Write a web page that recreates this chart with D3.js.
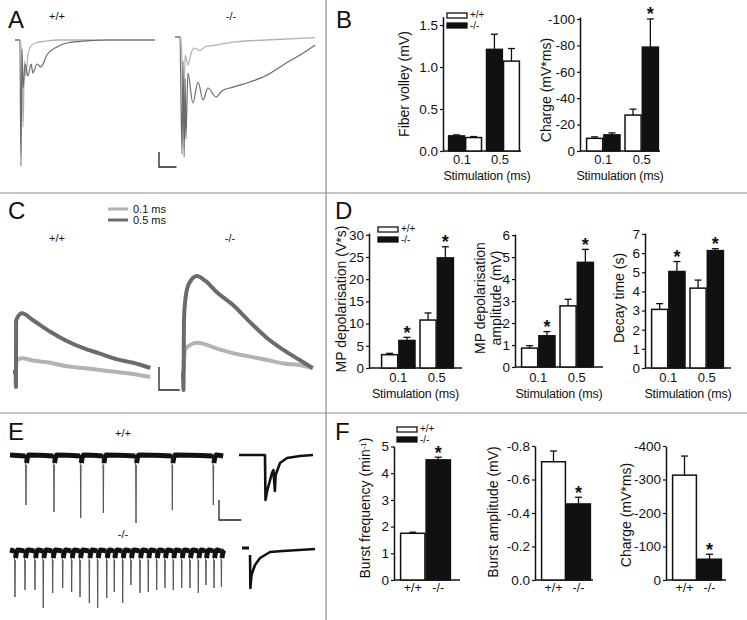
<!DOCTYPE html>
<html><head><meta charset="utf-8">
<script src="https://cdn.jsdelivr.net/npm/d3@7"></script>
<style>
body{margin:0;background:#fff}
svg{display:block}
text{font-family:"Liberation Sans",Arial,Helvetica,sans-serif;fill:#111}
</style>
</head><body>
<svg id="fig" width="747" height="620"></svg>
<script>
// ================= DATA =================
const stimulation = ["0.1", "0.5"];
const genotypes = ["+/+", "-/-"];

// Panel B
const fiberVolleyKO = [0.18, 1.21];
const fiberVolleyKOsem = [0.012, 0.18];
const fiberVolleyWT = [0.16, 1.07];
const fiberVolleyWTsem = [0.012, 0.15];
const fiberVolleyTicks = [0, 0.5, 1.0, 1.5];

const chargeBWT = [9.6, 27.2];
const chargeBWTsem = [1.1, 4.5];
const chargeBKO = [12.2, 78.7];
const chargeBKOsem = [1.5, 21.3];
const chargeBTicks = [0, 20, 40, 60, 80, 100];

// Panel D
const mpDepWT = [3.0, 10.8];
const mpDepWTsem = [0.3, 1.6];
const mpDepKO = [6.2, 24.8];
const mpDepKOsem = [0.7, 2.5];
const mpDepTicks = [0, 5, 10, 15, 20, 25, 30];

const mpAmpWT = [0.86, 2.78];
const mpAmpWTsem = [0.11, 0.30];
const mpAmpKO = [1.42, 4.76];
const mpAmpKOsem = [0.19, 0.59];
const mpAmpTicks = [0, 1, 2, 3, 4, 5, 6];

const decayWT = [3.06, 4.17];
const decayWTsem = [0.30, 0.42];
const decayKO = [5.04, 6.13];
const decayKOsem = [0.52, 0.10];
const decayTicks = [0, 1, 2, 3, 4, 5, 6, 7];

// Panel F
const burstFreq = [1.75, 4.5];
const burstFreqSem = [0.04, 0.10];
const burstFreqTicks = [0, 1, 2, 3, 4, 5];

const burstAmp = [0.706, 0.454];
const burstAmpSem = [0.064, 0.040];
const burstAmpTicks = [0, 0.2, 0.4, 0.6, 0.8];

const burstCharge = [313, 62];
const burstChargeSem = [57, 15];
const burstChargeTicks = [0, 100, 200, 300, 400];

// Panel A traces: [time (ms), field potential (mV)]
const traceA_WT_01 = [[0,0],[1.4,0],[2.0,-0.7],[2.3,-2.9],[2.7,-0.7],[3.1,-1.2],[3.7,-0.5],[4.3,-0.25],[5.7,-0.1],[8.6,-0.04],[13,0],[40,0]];
const traceA_WT_05 = [[0,0],[1.4,0],[1.7,-4.2],[2.0,-0.3],[2.3,-1.6],[2.9,-0.8],[3.7,-1.2],[4.6,-0.8],[5.1,-1.1],[6.3,-0.8],[7.4,-0.9],[9.1,-0.5],[12,-0.23],[14.9,-0.1],[20.6,-0.03],[27,0],[40,0]];
const traceA_KO_01 = [[0,0],[1.7,0],[2.0,-0.8],[2.4,-3.1],[2.9,-0.6],[3.7,-0.93],[4.6,-0.55],[5.4,-0.37],[7.1,-0.45],[8.6,-0.33],[11.7,-0.27],[16.6,-0.17],[26,-0.1],[40,-0.02]];
const traceA_KO_05 = [[0,0],[1.4,0],[2.0,-3.9],[2.3,-0.8],[2.6,-4.0],[2.9,-1.4],[3.1,-3.4],[3.7,-1.2],[5.1,-2.2],[6.6,-1.5],[8.0,-2.1],[9.4,-1.7],[11.7,-2.0],[13.4,-1.8],[16.6,-1.67],[21.4,-1.5],[26.3,-1.27],[30.9,-0.93],[35.7,-0.6],[40,-0.27]];

// Panel C traces: [time (s), membrane depolarisation (mV)]
const traceC_WT_01 = [[0,0],[0.43,0],[0.5,1.0],[1.3,1.2],[2.9,1.0],[5.4,0.8],[7.8,0.5],[10.1,0.35],[12.6,0.17],[15.1,0],[17.4,-0.17],[19.9,-0.43]];
const traceC_WT_05 = [[0,0],[0.36,0],[0.43,-1.3],[0.45,4.4],[0.6,4.7],[1.3,5.1],[2.9,4.5],[5.4,3.5],[7.8,2.7],[10.1,2.1],[12.6,1.6],[15.1,1.1],[17.4,0.8],[19.9,0.35]];
const traceC_KO_01 = [[0,0],[0.29,0],[0.58,2.2],[1.3,2.6],[2.3,2.8],[5.2,2.3],[7.5,1.9],[10,1.6],[12.5,1.3],[14.8,1.0],[17.2,0.87],[19.1,0.6]];
const traceC_KO_05 = [[0,0],[0.29,0],[0.36,-1.3],[0.43,4.8],[0.72,7.0],[1.3,8.1],[2.3,8.6],[3.5,8.2],[5.2,7.2],[7.5,6.1],[10,4.6],[12.5,3.2],[14.8,2.2],[17.2,1.3],[19.1,0.6]];

// Panel E: burst times (s) and amplitudes (mV)
const burstTimesWT = [18.0, 49.6, 79.7, 105.2, 142.0, 182.9, 229.1];
const burstAmpsWT = [-0.50, -0.57, -0.63, -0.58, -0.68, -0.55, -0.50];
const burstTimesKO = [5.6,16.9,28.2,37.5,48.1,59.4,69.5,78.9,89.4,98.8,109,117.5,127,136.3,146.5,155.8,165.3,174.6,184,193.5,202.8,212.2,220.8,229.9,238.2];
const burstAmpsKO = [-0.47,-0.40,-0.40,-0.58,-0.43,-0.38,-0.42,-0.47,-0.53,-0.58,-0.48,-0.42,-0.53,-0.35,-0.43,-0.42,-0.40,-0.38,-0.40,-0.38,-0.38,-0.43,-0.35,-0.38,-0.37];
const insetE_WT = [[0,0],[35.1,0],[35.8,-0.45],[38,-0.36],[44.6,-0.18],[46.5,-0.15],[48.5,-0.36],[49.5,-0.2],[55.4,-0.08],[64.9,-0.03],[82.4,-0.01],[100,0]];
const insetE_KO_pre = [[0,0.02],[9.6,0.02]];
const insetE_KO = [[11,-0.05],[11.5,-0.38],[13,-0.25],[17.8,-0.15],[24.7,-0.08],[38.4,-0.02],[56,-0.01],[100,0.01]];

// ================= DRAWING =================
const svg = d3.select("#fig");
svg.append("rect").attr("width", 747).attr("height", 620).attr("fill", "#fff");

// dividers
const divColor = "#8c8c8c";
svg.append("line").attr("x1", 326).attr("x2", 326).attr("y1", 0).attr("y2", 620).attr("stroke", divColor).attr("stroke-width", 1.2);
[193, 413].forEach(y => svg.append("line").attr("x1", 0).attr("x2", 747).attr("y1", y).attr("y2", y).attr("stroke", divColor).attr("stroke-width", 1.2));

// panel letters
[["A", 8, 28], ["B", 336, 28], ["C", 8, 219], ["D", 335, 219], ["E", 8, 440], ["F", 335, 440]].forEach(([t, x, y]) =>
  svg.append("text").attr("x", x).attr("y", y).attr("font-size", 24).text(t));

function label(t, x, y, size, anchor) {
  return svg.append("text").attr("x", x).attr("y", y).attr("font-size", size || 11).attr("text-anchor", anchor || "middle").text(t);
}

// ---------- bar charts ----------
function barChart(o) {
  const g = svg.append("g");
  const y = d3.scaleLinear().domain([0, o.max]).range([o.yBase, o.yTop]);
  const gx = d3.scaleBand().domain(o.groups).range(o.barRange).paddingInner(o.groups.length > 1 ? 0.1 : 0).paddingOuter(0);
  const sx = d3.scaleBand().domain(d3.range(o.series.length)).range([0, gx.bandwidth()]);
  const ax = d3.axisLeft(y).tickValues(o.ticks).tickFormat(o.fmt).tickSize(3).tickSizeOuter(0).tickPadding(2);
  const ag = g.append("g").attr("transform", `translate(${o.axisX},0)`).call(ax);
  ag.select(".domain").attr("stroke", "#111").attr("stroke-width", 1.5);
  ag.selectAll(".tick line").attr("stroke", "#111").attr("stroke-width", 1.2);
  ag.selectAll(".tick text").attr("font-size", 13.5).attr("fill", "#111").attr("font-family", "Liberation Sans, Arial, sans-serif");
  g.append("line").attr("x1", o.axisX).attr("x2", o.axisEnd).attr("y1", o.yBase).attr("y2", o.yBase).attr("stroke", "#111").attr("stroke-width", 1.5);

  o.series.forEach((s, i) => {
    s.vals.forEach((v, j) => {
      const x0 = gx(o.groups[j]) + sx(i), w = sx.bandwidth(), cx = x0 + w / 2;
      const top = y(v) , eTop = y(v + s.sem[j]);
      g.append("line").attr("x1", cx).attr("x2", cx).attr("y1", top).attr("y2", eTop).attr("stroke", "#111").attr("stroke-width", 1.3);
      g.append("line").attr("x1", cx - 3.5).attr("x2", cx + 3.5).attr("y1", eTop).attr("y2", eTop).attr("stroke", "#111").attr("stroke-width", 1.3);
      g.append("rect").attr("x", x0 + 0.6).attr("y", top).attr("width", w - 1.2).attr("height", o.yBase - top)
        .attr("fill", s.fill).attr("stroke", "#111").attr("stroke-width", 1.5);
      if (s.stars && s.stars[j]) {
        g.append("text").attr("x", cx).attr("y", eTop + 1.5).attr("text-anchor", "middle").attr("font-size", 18).attr("font-weight", "bold").text("*");
      }
    });
  });
  o.groups.forEach(gr => {
    g.append("text").attr("x", gx(gr) + gx.bandwidth() / 2 + (o.labelShift || 0)).attr("y", o.yBase + o.labelDy).attr("text-anchor", "middle").attr("font-size", 13).text(gr);
  });
  if (o.xTitle) {
    g.append("text").attr("x", o.xTitleX || (o.axisX + o.axisEnd) / 2).attr("y", o.yBase + o.xTitleDy).attr("text-anchor", "middle").attr("font-size", 12.5).attr("letter-spacing", -0.2).text(o.xTitle);
  }
  o.yTitle.forEach((t, k) => {
    const tx = g.append("text").attr("transform", `translate(${o.yTitleX[k]},${o.yTitleY}) rotate(-90)`).attr("text-anchor", "middle").attr("font-size", 14);
    if (Array.isArray(t)) {
      t.forEach(p => {
        const ts = tx.append("tspan").text(p.t);
        if (p.sup) ts.attr("baseline-shift", "super").attr("font-size", 8);
      });
    } else tx.text(t);
  });
  if (o.legend) {
    const [lx, ly] = o.legend;
    [["#fff", "+/+"], ["#111", "-/-"]].forEach(([f, t], k) => {
      g.append("rect").attr("x", lx).attr("y", ly + k * 10).attr("width", 20).attr("height", 5).attr("fill", f).attr("stroke", "#111").attr("stroke-width", 1.3);
      g.append("text").attr("x", lx + 23).attr("y", ly + k * 11 + 5).attr("font-size", 10).text(t);
    });
  }
  return g;
}

const fmt1 = d3.format(".1f");
const negFmt = v => v === 0 ? "0" : "-" + v;
const negFmt1 = v => v === 0 ? "0.0" : "-" + fmt1(v);

// B1 fiber volley (KO first)
barChart({axisX: 443, axisEnd: 521, yBase: 151, yTop: 16.6, max: 1.6, ticks: fiberVolleyTicks, fmt: fmt1,
  groups: stimulation, barRange: [448, 520],
  series: [{vals: fiberVolleyKO, sem: fiberVolleyKOsem, fill: "#111"}, {vals: fiberVolleyWT, sem: fiberVolleyWTsem, fill: "#fff"}],
  labelDy: 13, labelShift: -3, xTitle: "Stimulation (ms)", xTitleX: 487, xTitleDy: 29,
  yTitle: ["Fiber volley (mV)"], yTitleX: [409], yTitleY: 84, legend: [447, 13]});

// B2 charge
barChart({axisX: 580, axisEnd: 660, yBase: 151, yTop: 17, max: 101.5, ticks: chargeBTicks, fmt: negFmt,
  groups: stimulation, barRange: [586, 659],
  series: [{vals: chargeBWT, sem: chargeBWTsem, fill: "#fff"}, {vals: chargeBKO, sem: chargeBKOsem, fill: "#111", stars: [false, true]}],
  labelDy: 13, xTitle: "Stimulation (ms)", xTitleDy: 29,
  yTitle: ["Charge (mV*ms)"], yTitleX: [551], yTitleY: 90});

// D1
barChart({axisX: 369, axisEnd: 462, yBase: 368, yTop: 233, max: 30.4, ticks: mpDepTicks, fmt: d => d,
  groups: stimulation, barRange: [381, 454],
  series: [{vals: mpDepWT, sem: mpDepWTsem, fill: "#fff"}, {vals: mpDepKO, sem: mpDepKOsem, fill: "#111", stars: [true, true]}],
  labelDy: 14, xTitle: "Stimulation (ms)", xTitleDy: 30,
  yTitle: ["MP depolarisation (V*s)"], yTitleX: [346], yTitleY: 299, legend: [378, 227]});

// D2
barChart({axisX: 515, axisEnd: 603, yBase: 367, yTop: 234, max: 6.05, ticks: mpAmpTicks, fmt: d => d,
  groups: stimulation, barRange: [521, 594],
  series: [{vals: mpAmpWT, sem: mpAmpWTsem, fill: "#fff"}, {vals: mpAmpKO, sem: mpAmpKOsem, fill: "#111", stars: [true, true]}],
  labelDy: 15, xTitle: "Stimulation (ms)", xTitleDy: 31,
  yTitle: ["MP depolarisation", "amplitude (mV)"], yTitleX: [485, 501], yTitleY: 298});

// D3
barChart({axisX: 645, axisEnd: 731, yBase: 368, yTop: 233, max: 7.05, ticks: decayTicks, fmt: d => d,
  groups: stimulation, barRange: [651, 724],
  series: [{vals: decayWT, sem: decayWTsem, fill: "#fff"}, {vals: decayKO, sem: decayKOsem, fill: "#111", stars: [true, true]}],
  labelDy: 14, xTitle: "Stimulation (ms)", xTitleDy: 30,
  yTitle: ["Decay time (s)"], yTitleX: [624], yTitleY: 298});

// F1
barChart({axisX: 394, axisEnd: 460, yBase: 580, yTop: 446, max: 5.02, ticks: burstFreqTicks, fmt: d => d,
  groups: ["g"], barRange: [400, 451],
  series: [{vals: [burstFreq[0]], sem: [burstFreqSem[0]], fill: "#fff"}, {vals: [burstFreq[1]], sem: [burstFreqSem[1]], fill: "#111", stars: [true]}],
  labelDy: 0, yTitle: [[{t: "Burst frequency (min"}, {t: "-1", sup: true}, {t: ")"}]], yTitleX: [370], yTitleY: 508, legend: [397, 427]});

// F2
barChart({axisX: 535, axisEnd: 593, yBase: 580, yTop: 446, max: 0.8, ticks: burstAmpTicks, fmt: negFmt1,
  groups: ["g"], barRange: [541, 591],
  series: [{vals: [burstAmp[0]], sem: [burstAmpSem[0]], fill: "#fff"}, {vals: [burstAmp[1]], sem: [burstAmpSem[1]], fill: "#111", stars: [true]}],
  labelDy: 0, yTitle: ["Burst amplitude (mV)"], yTitleX: [498], yTitleY: 512});

// F3
barChart({axisX: 666, axisEnd: 726, yBase: 580, yTop: 446, max: 400, ticks: burstChargeTicks, fmt: negFmt,
  groups: ["g"], barRange: [672, 722],
  series: [{vals: [burstCharge[0]], sem: [burstChargeSem[0]], fill: "#fff"}, {vals: [burstCharge[1]], sem: [burstChargeSem[1]], fill: "#111", stars: [true]}],
  labelDy: 0, yTitle: ["Charge (mV*ms)"], yTitleX: [631], yTitleY: 515});

// remove the placeholder "g" labels of single-group charts and add genotype labels
svg.selectAll("text").filter(function () { return d3.select(this).text() === "g"; }).remove();
[[394, [400, 451]], [535, [541, 591]], [666, [672, 722]]].forEach(([ax, r]) => {
  const gx = d3.scaleBand().domain(genotypes).range(r);
  genotypes.forEach(gn => svg.append("text").attr("x", gx(gn) + gx.bandwidth() / 2).attr("y", 592).attr("text-anchor", "middle").attr("font-size", 12.5).text(gn));
});

// ---------- traces ----------
const LIGHT = "#b3b3b3", DARK = "#6b6b6b";
function drawTrace(data, xs, ys, color, width, curve) {
  const line = d3.line().x(d => xs(d[0])).y(d => ys(d[1])).curve(curve || d3.curveLinear);
  svg.append("path").attr("d", line(data)).attr("fill", "none").attr("stroke", color).attr("stroke-width", width).attr("stroke-linejoin", "round").attr("stroke-linecap", "butt");
}

// Panel A
const xA_WT = d3.scaleLinear().domain([0, 40]).range([15, 155]);
const yA_WT = d3.scaleLinear().domain([0, -4.2]).range([40, 166]);
const xA_KO = d3.scaleLinear().domain([0, 40]).range([175, 315]);
const yA_KO = d3.scaleLinear().domain([0, -4.2]).range([37, 163]);
drawTrace(traceA_WT_01, xA_WT, yA_WT, LIGHT, 1.3, d3.curveMonotoneX);
drawTrace(traceA_WT_05, xA_WT, yA_WT, DARK, 1.2, d3.curveMonotoneX);
drawTrace(traceA_KO_01, xA_KO, yA_KO, LIGHT, 1.3, d3.curveMonotoneX);
drawTrace(traceA_KO_05, xA_KO, yA_KO, DARK, 1.2, d3.curveMonotoneX);
label("+/+", 57, 20, 11);
label("-/-", 231, 20, 11);
// scale bar A: 0.5 mV, 5 ms
{
  const cx = 159, cy = 167;
  const h = yA_WT(-0.5) - yA_WT(0), w = xA_WT(5) - xA_WT(0);
  svg.append("path").attr("d", `M${cx},${cy - h}V${cy}H${cx + w}`).attr("fill", "none").attr("stroke", "#222").attr("stroke-width", 1.3);
}

// Panel C
const xC_WT = d3.scaleLinear().domain([0, 20]).range([13, 151]);
const yC_WT = d3.scaleLinear().domain([0, 10]).range([372, 257]);
const xC_KO = d3.scaleLinear().domain([0, 20]).range([181, 319]);
const yC_KO = d3.scaleLinear().domain([0, 10]).range([375, 260]);
drawTrace(traceC_WT_01, xC_WT, yC_WT, LIGHT, 4, d3.curveMonotoneX);
drawTrace(traceC_WT_05, xC_WT, yC_WT, DARK, 4, d3.curveMonotoneX);
drawTrace(traceC_KO_01, xC_KO, yC_KO, LIGHT, 4, d3.curveMonotoneX);
drawTrace(traceC_KO_05, xC_KO, yC_KO, DARK, 4, d3.curveMonotoneX);
// onset lines (thin)
drawTrace([[0.43, -1.3], [0.45, 4.4]], xC_WT, yC_WT, DARK, 1);
drawTrace([[0.36, -1.3], [0.43, 4.8]], xC_KO, yC_KO, DARK, 1);
label("+/+", 57, 242, 11);
label("-/-", 230, 242, 11);
// legend C
svg.append("line").attr("x1", 108).attr("x2", 128).attr("y1", 209).attr("y2", 209).attr("stroke", LIGHT).attr("stroke-width", 3);
svg.append("line").attr("x1", 108).attr("x2", 128).attr("y1", 220).attr("y2", 220).attr("stroke", DARK).attr("stroke-width", 3);
label("0.1 ms", 133, 213, 11, "start");
label("0.5 ms", 133, 224, 11, "start");
// scale bar C: 2 mV, 3 s
{
  const cx = 159, cy = 390;
  const h = yC_WT(0) - yC_WT(2), w = xC_WT(3) - xC_WT(0);
  svg.append("path").attr("d", `M${cx},${cy - h}V${cy}H${cx + w}`).attr("fill", "none").attr("stroke", "#222").attr("stroke-width", 1.3);
}

// Panel E
const xE_WT = d3.scaleLinear().domain([0, 240]).range([10, 223]);
const yE_WT = d3.scaleLinear().domain([0, -1]).range([455, 555]);
const xE_KO = d3.scaleLinear().domain([0, 240]).range([10, 223]);
const yE_KO = d3.scaleLinear().domain([0, -1]).range([550, 650]);
function burstTrace(times, amps, xs, ys, tEnd, spikeColor) {
  const line = d3.line().x(d => xs(d[0])).y(d => ys(d[1])).curve(d3.curveMonotoneX);
  const starts = [0, ...times], ends = [...times, tEnd];
  starts.forEach((t0, i) => {
    const t1 = ends[i];
    const seg = i === 0 ? [[t0, 0], [t1 - 0.8, -0.01]] : [[t0 + 0.6, -0.08], [t0 + 1.6, -0.03], [t0 + 3.2, 0], [t1 - 0.8, -0.01]];
    if (t1 - t0 > 1.5) svg.append("path").attr("d", line(seg)).attr("fill", "none").attr("stroke", "#111").attr("stroke-width", 5);
  });
  const sl = d3.line().x(d => xs(d[0])).y(d => ys(d[1]));
  times.forEach((t, i) => {
    svg.append("path").attr("d", sl([[t - 0.5, 0], [t, amps[i]], [t + 0.4, -0.1]])).attr("fill", "none").attr("stroke", spikeColor).attr("stroke-width", 1);
    svg.append("path").attr("d", sl([[t - 0.7, 0], [t, -0.08], [t + 0.5, -0.05]])).attr("fill", "none").attr("stroke", "#111").attr("stroke-width", 1.6);
  });
}
burstTrace(burstTimesWT, burstAmpsWT, xE_WT, yE_WT, 241, "#555");
burstTrace(burstTimesKO, burstAmpsKO, xE_KO, yE_KO, 240, "#555");
label("+/+", 123, 437, 11);
label("-/-", 123, 538, 11);
// insets
const xI_WT = d3.scaleLinear().domain([0, 100]).range([239, 313]);
const xI_KO = d3.scaleLinear().domain([0, 100]).range([242, 315]);
drawTrace(insetE_WT, xI_WT, yE_WT, "#111", 2.6);
drawTrace(insetE_KO_pre, xI_KO, yE_KO, "#111", 3);
drawTrace(insetE_KO, xI_KO, yE_KO, "#111", 2.6);
// scale bar E: 0.2 mV, 25 s
{
  const cx = 219, cy = 520;
  const h = yE_WT(-0.2) - yE_WT(0), w = xE_WT(25) - xE_WT(0);
  svg.append("path").attr("d", `M${cx},${cy - h}V${cy}H${cx + w}`).attr("fill", "none").attr("stroke", "#222").attr("stroke-width", 1.3);
}
</script>
</body></html>
